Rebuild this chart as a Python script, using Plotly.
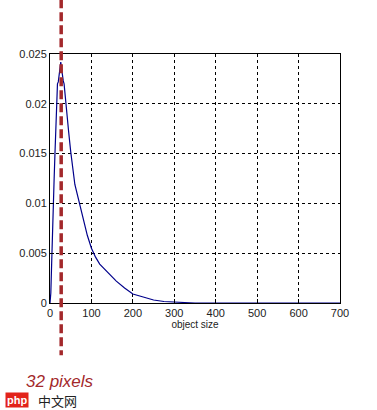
import plotly.graph_objects as go

# Data
object_size = [0, 2, 4, 6, 8, 10, 12, 14, 16, 18, 20, 22, 24, 26, 28, 30, 32, 34, 36, 38, 40,
               45, 50, 55, 60, 70, 80, 90, 100, 110, 120, 140, 160, 180, 200, 225, 250,
               275, 300, 325, 350, 400, 500, 600, 700]
frequency = [0, 0.001, 0.004, 0.008, 0.0115, 0.0125, 0.015, 0.0175, 0.019, 0.022, 0.0222,
             0.023, 0.0238, 0.0242, 0.0235, 0.0225, 0.0223, 0.022, 0.021, 0.0203, 0.0195,
             0.0172, 0.0152, 0.0133, 0.0119, 0.0102, 0.0084, 0.0068, 0.0055, 0.0046, 0.0039,
             0.003, 0.0022, 0.0015, 0.0009, 0.0006, 0.0003, 0.00015, 0.0001, 0.00005, 0,
             0, 0, 0, 0]
marker_x = 27
marker_label = "32 pixels"
x_ticks = [0, 100, 200, 300, 400, 500, 600, 700]
y_ticks = [0, 0.005, 0.01, 0.015, 0.02, 0.025]
y_tick_text = ["0", "0.005", "0.01", "0.015", "0.02", "0.025"]

fig = go.Figure()
fig.add_trace(go.Scatter(x=object_size, y=frequency, mode="lines",
                         line=dict(color="#00008b", width=1.2), showlegend=False))

axis_font = dict(family="Liberation Sans, Arial", size=11, color="#222")
fig.update_layout(
    width=377, height=410,
    margin=dict(l=50, r=37, t=54, b=107),
    paper_bgcolor="white", plot_bgcolor="white",
    font=axis_font,
    xaxis=dict(range=[0, 700], tickvals=x_ticks, showgrid=True, gridcolor="black",
               griddash="3px,3px", gridwidth=1, showline=True, linecolor="black",
               linewidth=1, mirror=True, ticks="inside", ticklen=4, tickcolor="black",
               zeroline=False, tickfont=axis_font,
               title=dict(text="object size", font=dict(family="Liberation Sans, Arial", size=10, color="#222"), standoff=2)),
    yaxis=dict(range=[0, 0.025], tickvals=y_ticks, ticktext=y_tick_text, showgrid=True,
               gridcolor="black", griddash="3px,3px", gridwidth=1, showline=True,
               linecolor="black", linewidth=1, mirror=True, ticks="inside", ticklen=4,
               tickcolor="black", zeroline=False, tickfont=axis_font),
)

fig.add_shape(type="line", xref="x", yref="paper", x0=marker_x, x1=marker_x,
              y0=1.22, y1=-0.21, line=dict(color="#a3282b", width=3.5, dash="9px,4px"))

fig.add_annotation(text=marker_label, xref="paper", yref="paper", x=-0.088, y=-0.315,
                   xanchor="left", yanchor="middle", showarrow=False,
                   font=dict(family="Liberation Sans, Arial", size=17, color="#a3282b"),
                   textangle=0)
fig.layout.annotations[-1].text = "<i>" + marker_label + "</i>"

fig.add_annotation(text="<b>php</b>", xref="paper", yref="paper", x=-0.155, y=-0.39,
                   xanchor="left", yanchor="middle", showarrow=False,
                   font=dict(family="Liberation Sans, Arial", size=11, color="white"),
                   bgcolor="#e2231a", borderpad=1)
fig.add_annotation(text="中文网", xref="paper", yref="paper", x=-0.05, y=-0.39,
                   xanchor="left", yanchor="middle", showarrow=False,
                   font=dict(family="Noto Sans CJK SC", size=13, color="#222"))

fig.write_html("out.html")
